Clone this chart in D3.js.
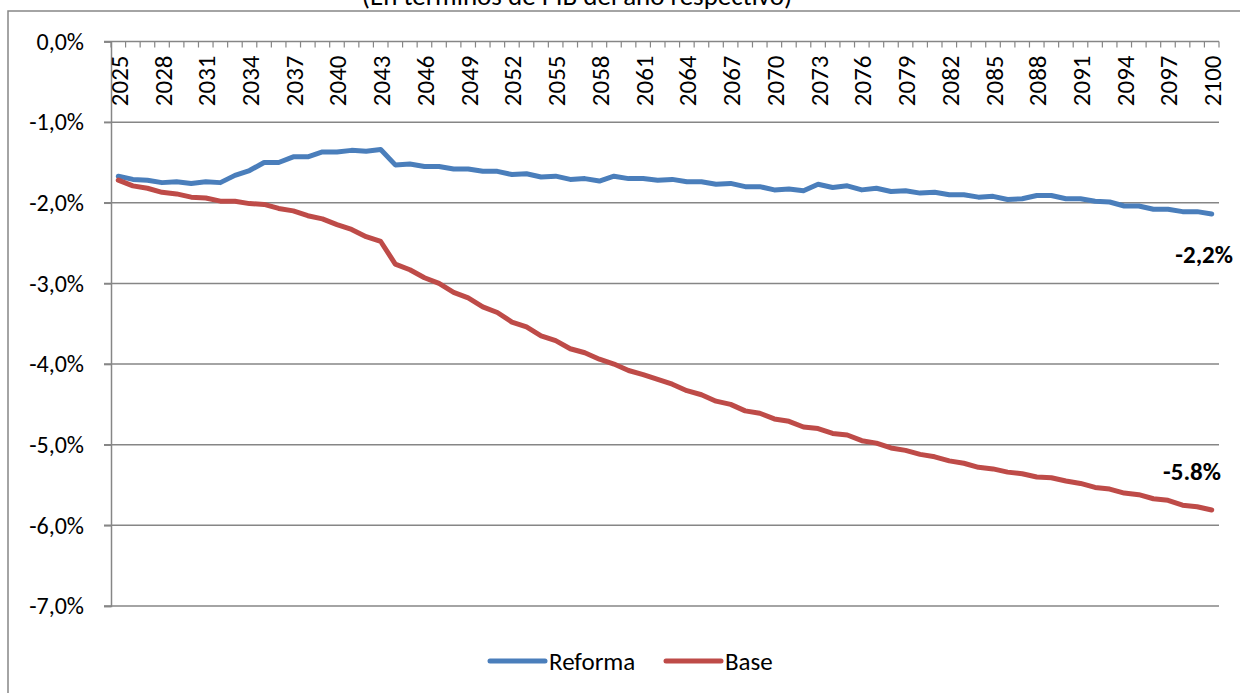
<!DOCTYPE html>
<html>
<head>
<meta charset="utf-8">
<script src="https://cdn.jsdelivr.net/npm/d3@7.9.0/dist/d3.min.js"></script>
<style>
  body { margin: 0; background: #fff; }
  svg { display: block; font-family: Carlito, Calibri, Lato, sans-serif; }
</style>
</head>
<body>
<svg id="chart" width="1240" height="693"></svg>
<script>
// Years on the category axis
const years = d3.range(2025, 2101);

// Balance (% of GDP)
const reforma = [
  -1.67, -1.71, -1.72, -1.75, -1.74, -1.76, -1.74, -1.75, -1.66, -1.60,
  -1.50, -1.50, -1.43, -1.43, -1.37, -1.37, -1.35, -1.36, -1.34, -1.53,
  -1.52, -1.55, -1.55, -1.58, -1.58, -1.61, -1.61, -1.65, -1.64, -1.68,
  -1.67, -1.71, -1.70, -1.73, -1.67, -1.70, -1.70, -1.72, -1.71, -1.74,
  -1.74, -1.77, -1.76, -1.80, -1.80, -1.84, -1.83, -1.85, -1.77, -1.81,
  -1.79, -1.84, -1.82, -1.86, -1.85, -1.88, -1.87, -1.90, -1.90, -1.93,
  -1.92, -1.96, -1.95, -1.91, -1.91, -1.95, -1.95, -1.98, -1.99, -2.04,
  -2.04, -2.08, -2.08, -2.11, -2.11, -2.14
];

const base = [
  -1.72, -1.79, -1.82, -1.87, -1.89, -1.93, -1.94, -1.98, -1.98, -2.01,
  -2.02, -2.07, -2.10, -2.16, -2.20, -2.27, -2.33, -2.42, -2.48, -2.76,
  -2.83, -2.93, -3.00, -3.11, -3.18, -3.29, -3.36, -3.48, -3.54, -3.65,
  -3.71, -3.81, -3.86, -3.94, -4.00, -4.08, -4.13, -4.19, -4.25, -4.33,
  -4.38, -4.46, -4.50, -4.58, -4.61, -4.68, -4.71, -4.78, -4.80, -4.86,
  -4.88, -4.95, -4.98, -5.04, -5.07, -5.12, -5.15, -5.20, -5.23, -5.28,
  -5.30, -5.34, -5.36, -5.40, -5.41, -5.45, -5.48, -5.53, -5.55, -5.60,
  -5.62, -5.67, -5.69, -5.75, -5.77, -5.81
];

const yTicks = [0, -1, -2, -3, -4, -5, -6, -7];
const labelYears = years.filter((y) => (y - 2025) % 3 === 0);
const seriesNames = ['Reforma', 'Base'];
const endLabels = ['-2,2%', '-5.8%'];

const colors = { Reforma: '#4A7EBB', Base: '#BE4B48' };
const gridColor = '#868686';
const fontSize = 24;

let svg = d3.select('#chart');

// Outer chart border (runs off the right and bottom edges)
svg.append('rect')
  .attr('x', 8).attr('y', 11)
  .attr('width', 1260).attr('height', 700)
  .attr('fill', 'none')
  .attr('stroke', gridColor)
  .attr('stroke-width', 1.5);

// Title, clipped at the top as in the original
svg.append('text')
  .attr('x', 577).attr('y', 5)
  .attr('text-anchor', 'middle')
  .attr('font-size', 27)
  .attr('fill', '#000')
  .text('(En términos de PIB del año respectivo)');

// Scales
let x = d3.scaleBand().domain(years).range([111, 1219]);
let y = d3.scaleLinear().domain([-7, 0]).range([606, 41.5]);
let cx = (yr) => x(yr) + x.bandwidth() / 2;

// Horizontal gridlines
svg.append('g')
  .selectAll('line')
  .data(yTicks.filter((t) => t !== 0))
  .join('line')
  .attr('x1', 104).attr('x2', 1219)
  .attr('y1', (d) => y(d)).attr('y2', (d) => y(d))
  .attr('stroke', gridColor)
  .attr('stroke-width', 1.5);

// Y axis (left)
let yAxis = d3.axisLeft(y)
  .tickValues(yTicks)
  .tickSize(7)
  .tickPadding(20)
  .tickFormat((d) => d3.format('.1f')(d).replace('.', ',').replace('−', '-') + '%');

let yg = svg.append('g')
  .attr('transform', 'translate(111,0)')
  .call(yAxis);
yg.select('.domain').attr('stroke', gridColor).attr('stroke-width', 1.5);
yg.selectAll('.tick line').attr('stroke', gridColor).attr('stroke-width', 1.5);
yg.selectAll('.tick text')
  .attr('font-size', fontSize)
  .attr('font-family', 'Carlito, Calibri, Lato, sans-serif')
  .attr('fill', '#000');

// X axis sits on the 0% line, ticks between categories
let xg = svg.append('g').attr('transform', `translate(0,${y(0)})`);
xg.append('line')
  .attr('x1', 104).attr('x2', 1219)
  .attr('stroke', gridColor)
  .attr('stroke-width', 1.5);
xg.selectAll('line.tk')
  .data(years.concat([null]))
  .join('line')
  .attr('class', 'tk')
  .attr('x1', (d, i) => 111 + i * x.bandwidth())
  .attr('x2', (d, i) => 111 + i * x.bandwidth())
  .attr('y1', 0).attr('y2', 6)
  .attr('stroke', gridColor)
  .attr('stroke-width', 1.2);
xg.selectAll('text')
  .data(labelYears)
  .join('text')
  .attr('transform', (d) => `translate(${cx(d) + 1},14) rotate(-90)`)
  .attr('text-anchor', 'end')
  .attr('dominant-baseline', 'central')
  .attr('font-size', fontSize + 1)
  .attr('fill', '#000')
  .text((d) => d);

// Series lines
let line = d3.line()
  .x((d) => cx(d.year))
  .y((d) => y(d.value));

let series = [
  { name: 'Reforma', values: years.map((yr, i) => ({ year: yr, value: reforma[i] })) },
  { name: 'Base', values: years.map((yr, i) => ({ year: yr, value: base[i] })) }
];

series.forEach((s) => {
  svg.append('path')
    .datum(s.values)
    .attr('d', line)
    .attr('fill', 'none')
    .attr('stroke', colors[s.name])
    .attr('stroke-width', 5)
    .attr('stroke-linejoin', 'round')
    .attr('stroke-linecap', 'round');
});

// End value labels
svg.append('text')
  .attr('x', 1233).attr('y', 263)
  .attr('text-anchor', 'end')
  .attr('font-size', fontSize + 1)
  .attr('font-weight', 'bold')
  .text(endLabels[0]);
svg.append('text')
  .attr('x', 1221).attr('y', 480)
  .attr('text-anchor', 'end')
  .attr('font-size', fontSize + 1)
  .attr('font-weight', 'bold')
  .text(endLabels[1]);

// Legend
let legendX = [490, 666];
seriesNames.forEach((name, i) => {
  let g = svg.append('g').attr('transform', `translate(${legendX[i]},661)`);
  g.append('line')
    .attr('x1', 0).attr('x2', 55)
    .attr('stroke', colors[name])
    .attr('stroke-width', 5)
    .attr('stroke-linecap', 'round');
  g.append('text')
    .attr('x', 59).attr('y', 0)
    .attr('dominant-baseline', 'central')
    .attr('font-size', fontSize + 1)
    .attr('fill', '#000')
    .text(name);
});
</script>
</body>
</html>
